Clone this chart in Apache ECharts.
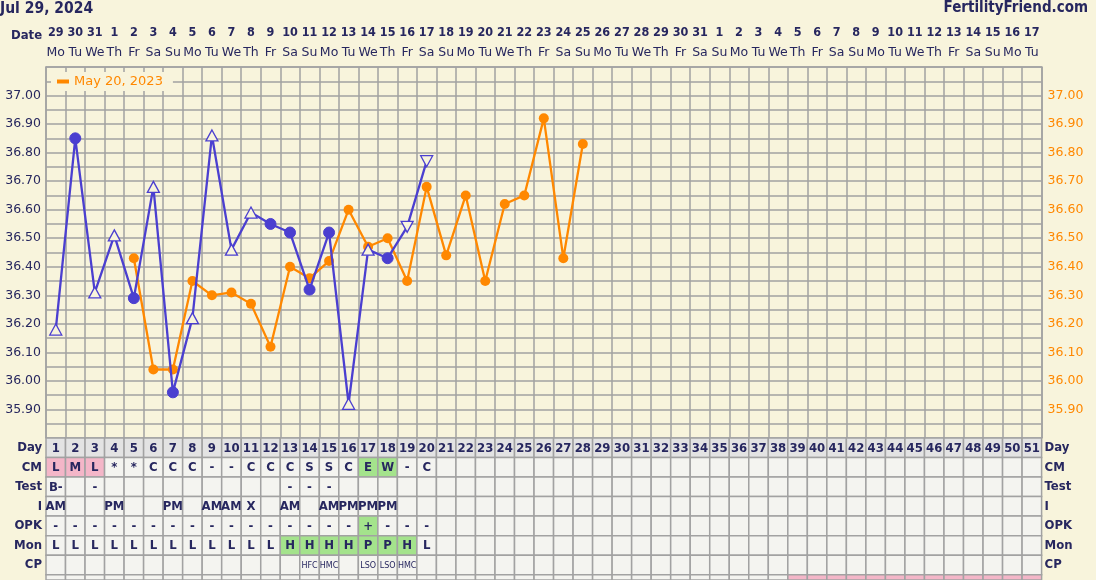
<!DOCTYPE html>
<html><head><meta charset="utf-8">
<script src="https://cdn.jsdelivr.net/npm/echarts@6/dist/echarts.min.js"></script>
<style>html,body{margin:0;padding:0;background:#f8f4dc}#c{width:1096px;height:580px}</style>
</head><body><div id="c"></div><script>
// ---------- data ----------
const dateNums = ['29','30','31','1','2','3','4','5','6','7','8','9','10','11','12','13','14','15','16','17','18','19','20','21','22','23','24','25','26','27','28','29','30','31','1','2','3','4','5','6','7','8','9','10','11','12','13','14','15','16','17'];
const weekdays = ['Mo','Tu','We','Th','Fr','Sa','Su','Mo','Tu','We','Th','Fr','Sa','Su','Mo','Tu','We','Th','Fr','Sa','Su','Mo','Tu','We','Th','Fr','Sa','Su','Mo','Tu','We','Th','Fr','Sa','Su','Mo','Tu','We','Th','Fr','Sa','Su','Mo','Tu','We','Th','Fr','Sa','Su','Mo','Tu'];
const dayNums = ['1','2','3','4','5','6','7','8','9','10','11','12','13','14','15','16','17','18','19','20','21','22','23','24','25','26','27','28','29','30','31','32','33','34','35','36','37','38','39','40','41','42','43','44','45','46','47','48','49','50','51'];
const yTickLabels = ['35.90','36.00','36.10','36.20','36.30','36.40','36.50','36.60','36.70','36.80','36.90','37.00'];

const currentTemps = [36.18,36.85,36.31,36.51,36.29,36.68,35.96,36.22,36.86,36.46,36.59,36.55,36.52,36.32,36.52,35.92,36.46,36.43,36.54,36.77];
// t = open triangle, d = filled dot, v = open inverted triangle
const currentMarks = ['t','d','t','t','d','t','d','t','t','t','t','d','d','d','d','t','t','d','v','v'];

const prevLabel = 'May 20, 2023';
const prevTemps = [null,null,null,null,36.43,36.04,36.04,36.35,36.30,36.31,36.27,36.12,36.40,36.36,36.42,36.60,36.47,36.50,36.35,36.68,36.44,36.65,36.35,36.62,36.65,36.92,36.43,36.83];

const rowNames = ['Day','CM','Test','I','OPK','Mon','CP'];
const cmRow   = ['L','M','L','*','*','C','C','C','-','-','C','C','C','S','S','C','E','W','-','C'];
const testRow = ['B-','','-','','','','','','','','','','-','-','-','','','','',''];
const iRow    = ['AM','','','PM','','','PM','','AM','AM','X','','AM','','AM','PM','PM','PM','',''];
const opkRow  = ['-','-','-','-','-','-','-','-','-','-','-','-','-','-','-','-','+','-','-','-'];
const monRow  = ['L','L','L','L','L','L','L','L','L','L','L','L','H','H','H','H','P','P','H','L'];
const cpRow   = ['','','','','','','','','','','','','','HFC','HMC','','LSO','LSO','HMC',''];
// highlighted cells (row name -> day numbers); 'next' = partly visible row below CP
const pinkDays  = {CM:[1,2,3], next:[39,40,41,42,43,44,45,46,47,48,49,50,51]};
const greenDays = {CM:[17,18], OPK:[17], Mon:[13,14,15,16,17,18,19]};

// ---------- styling ----------
const BG = '#f8f4dc', NAVY = '#27275f', BLUE = '#4b3fd0', ORANGE = '#ff8800', GRID = '#a2a2a2';
const COND = '"DejaVu Sans Condensed","DejaVu Sans",sans-serif';
const SANS = '"DejaVu Sans",sans-serif';

const rowTexts = [dayNums, cmRow, testRow, iRow, opkRow, monRow, cpRow];
function cellFill(rn, r, c) {
  let fill = r === 0 ? '#e3e3e3' : '#f4f4f0';
  if ((pinkDays[rn] || []).includes(c + 1)) fill = '#f4b6c8';
  if ((greenDays[rn] || []).includes(c + 1)) fill = '#a4e38c';
  return fill;
}
const tableData = [];
rowNames.forEach((rn, r) => {
  for (let c = 0; c < dayNums.length; c++) {
    tableData.push({value: [c, r], txt: rowTexts[r][c] || '', fill: cellFill(rn, r, c), small: rn === 'CP'});
  }
});
const nextData = [];
for (let c = 0; c < dayNums.length; c++) nextData.push({value: [c, 0], txt: '', fill: cellFill('next', 1, c)});

const curData = currentTemps.map((v, i) => {
  const m = currentMarks[i];
  if (m === 'd') return {value: v, symbol: 'circle', symbolSize: 11, itemStyle: {color: BLUE, borderColor: BLUE}};
  return {value: v, symbol: 'triangle', symbolSize: [12, 11], symbolRotate: m === 'v' ? 180 : 0,
          itemStyle: {color: BG, borderColor: BLUE, borderWidth: 1.3}};
});

const fmtY = v => { const s = v.toFixed(2); return yTickLabels.includes(s) ? s : ''; };

function makeCell(list) {
  return (params, api) => {
    const d = list[params.dataIndex];
    const p = api.coord([api.value(0), api.value(1)]);
    const s = api.size([1, 1]);
    return {type: 'group', children: [
      {type: 'rect', shape: {x: p[0] - s[0] / 2, y: p[1] - s[1] / 2, width: s[0], height: s[1]},
       style: {fill: d.fill, stroke: GRID, lineWidth: 1.5}},
      {type: 'text', style: {x: p[0], y: p[1] + 0.5, text: d.txt, align: 'center', verticalAlign: 'middle',
       font: d.small ? '8px ' + SANS : 'bold 13px ' + COND, fill: NAVY}}
    ]};
  };
}

const chart = echarts.init(document.getElementById('c'));
chart.setOption({
  backgroundColor: BG,
  animation: false,
  title: [
    {text: 'Jul 29, 2024', left: 0, top: 1, padding: 0, textStyle: {fontFamily: COND, fontWeight: 'bold', fontSize: 15.5, color: NAVY}},
    {text: 'FertilityFriend.com', right: 8, top: 1, padding: 0, textStyle: {fontFamily: COND, fontWeight: 'bold', fontSize: 15, color: NAVY}},
    {text: 'Date', left: 11, top: 29.5, padding: 0, textStyle: {fontFamily: COND, fontWeight: 'bold', fontSize: 13, color: NAVY}}
  ],
  legend: {
    data: [prevLabel], left: 51, top: 72, padding: [3, 10, 3, 6], backgroundColor: BG,
    icon: 'rect', itemWidth: 12, itemHeight: 4, itemGap: 4,
    textStyle: {color: ORANGE, fontFamily: SANS, fontSize: 13}
  },
  grid: [
    {left: 46, right: 54.4, top: 67, height: 371},
    {left: 46, right: 54.4, top: 438, height: 136.7},
    {left: 46, right: 54.4, top: 574.7, height: 5.3}
  ],
  xAxis: [
    {type: 'category', gridIndex: 0, position: 'top', data: dateNums, boundaryGap: true,
     axisLine: {show: true, lineStyle: {color: GRID, width: 1.5}}, axisTick: {show: false},
     splitLine: {show: true, lineStyle: {color: GRID, width: 1.5}},
     axisLabel: {interval: 0, margin: 4.5,
       formatter: (v, i) => '{n|' + v + '}\n{w|' + weekdays[i] + '}',
       rich: {n: {fontFamily: COND, fontWeight: 'bold', fontSize: 12.5, color: NAVY, lineHeight: 20, align: 'center'},
              w: {fontFamily: SANS, fontSize: 12.5, color: NAVY, lineHeight: 20, align: 'center'}}}},
    {type: 'category', gridIndex: 1, data: dayNums, show: false},
    {type: 'category', gridIndex: 2, data: dayNums, show: false}
  ],
  yAxis: [
    {type: 'value', gridIndex: 0, min: 35.8, max: 37.1, interval: 0.05,
     axisLine: {show: true, lineStyle: {color: GRID, width: 1.5}}, axisTick: {show: false},
     splitLine: {show: true, lineStyle: {color: GRID, width: 1.5}},
     axisLabel: {formatter: fmtY, margin: 5, fontFamily: SANS, fontSize: 12.5, color: NAVY}},
    {type: 'value', gridIndex: 0, position: 'right', min: 35.8, max: 37.1, interval: 0.05,
     axisLine: {show: true, lineStyle: {color: GRID, width: 1.5}}, axisTick: {show: false}, splitLine: {show: false},
     axisLabel: {formatter: fmtY, margin: 6, fontFamily: SANS, fontSize: 12.5, color: ORANGE}},
    {type: 'category', gridIndex: 1, data: rowNames, inverse: true,
     axisLine: {show: false}, axisTick: {show: false},
     axisLabel: {margin: 4, fontFamily: COND, fontWeight: 'bold', fontSize: 13, color: NAVY}},
    {type: 'category', gridIndex: 1, data: rowNames, inverse: true, position: 'right',
     axisLine: {show: false}, axisTick: {show: false},
     axisLabel: {margin: 3, fontFamily: COND, fontWeight: 'bold', fontSize: 13, color: NAVY}},
    {type: 'category', gridIndex: 2, data: [''], show: false}
  ],
  series: [
    {name: prevLabel, type: 'line', xAxisIndex: 0, yAxisIndex: 0, data: prevTemps,
     symbol: 'circle', symbolSize: 10, showAllSymbol: true,
     lineStyle: {color: ORANGE, width: 2.3}, itemStyle: {color: ORANGE}, z: 3},
    {name: 'Current', type: 'line', xAxisIndex: 0, yAxisIndex: 0, data: curData,
     showAllSymbol: true, lineStyle: {color: BLUE, width: 2.3}, itemStyle: {color: BLUE}, z: 4},
    {type: 'custom', xAxisIndex: 1, yAxisIndex: 2, data: tableData, renderItem: makeCell(tableData)},
    {type: 'custom', xAxisIndex: 2, yAxisIndex: 4, data: nextData, renderItem: makeCell(nextData)}
  ]
});
</script></body></html>
